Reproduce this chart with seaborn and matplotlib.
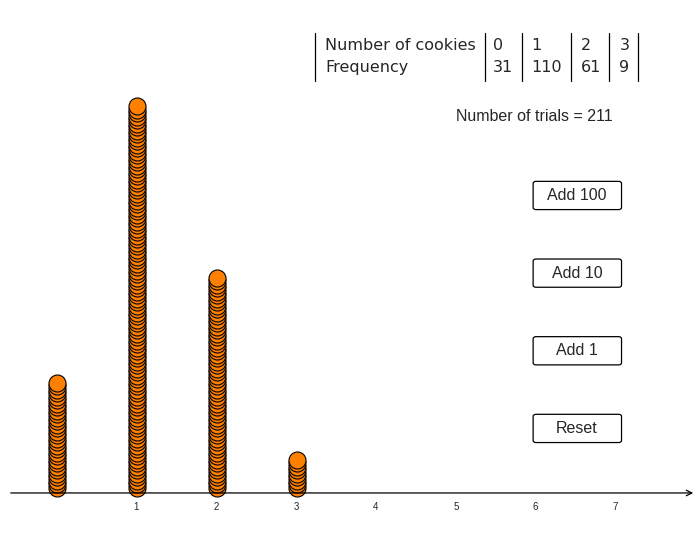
import matplotlib
matplotlib.use("Agg")
import matplotlib.pyplot as plt
import seaborn as sns
import pandas as pd
from matplotlib.patches import FancyBboxPatch

cookies = [0, 1, 2, 3]
frequency = [31, 110, 61, 9]
tick_values = [1, 2, 3, 4, 5, 6, 7]
buttons = ["Add 100", "Add 10", "Add 1", "Reset"]

rows = []
for c, f in zip(cookies, frequency):
    for k in range(f):
        rows.append({"cookies": c, "stack": k + 1.5})
df = pd.DataFrame(rows)

sns.set_style("white")
plt.rcParams['font.family'] = ['Liberation Sans', 'DejaVu Sans']
fig = plt.figure(figsize=(6.96, 5.43), dpi=100)
ax = fig.add_axes([0, 0, 1, 1])
ax.set_xlim(-0.72, 8.0)
ax.set_ylim(-14.3, 140.9)
ax.axis("off")

sns.scatterplot(data=df, x="cookies", y="stack", ax=ax, s=150, color="#ff7f00",
                edgecolor="black", linewidth=0.8, legend=False, zorder=3)

ax.annotate("", xy=(8.0, 0), xytext=(-0.62, 0),
            arrowprops=dict(arrowstyle="->", color="black", lw=0.9))
for t in tick_values:
    ax.text(t - 0.01, -2.5, str(t), ha="center", va="top", fontsize=7)

# frequency table
tx = fig.transFigure
header = ["Number of cookies"] + [str(c) for c in cookies]
freq_row = ["Frequency"] + [str(f) for f in frequency]
col_x = [0.467, 0.708, 0.763, 0.834, 0.890]
sep_x = [0.452, 0.697, 0.750, 0.820, 0.875, 0.917]
for x, h, f in zip(col_x, header, freq_row):
    fig.text(x, 0.917, h, fontsize=11.5, va="center", ha="left", family="DejaVu Sans")
    fig.text(x, 0.875, f, fontsize=11.5, va="center", ha="left", family="DejaVu Sans")
for x in sep_x:
    fig.add_artist(plt.Line2D([x, x], [0.85, 0.94], color="black", lw=0.9, transform=tx))

fig.text(0.768, 0.785, "Number of trials = %d" % sum(frequency), fontsize=11.5,
         ha="center", va="center")

button_y = [0.640, 0.497, 0.354, 0.211]
for label, y in zip(buttons, button_y):
    box = FancyBboxPatch((0.766, y - 0.026), 0.127, 0.052, boxstyle="round,pad=0,rounding_size=0.004",
                         transform=tx, facecolor="white", edgecolor="black", lw=0.9)
    fig.add_artist(box)
    fig.text(0.829, y, label, fontsize=11.5, ha="center", va="center")

fig.savefig("out.png", dpi=100)
